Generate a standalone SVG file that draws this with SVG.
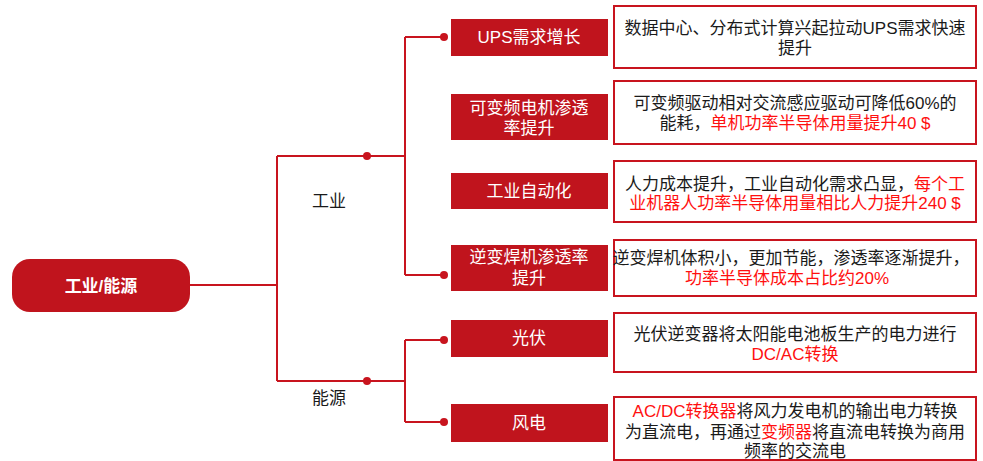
<svg xmlns="http://www.w3.org/2000/svg" width="983" height="461" viewBox="0 0 983 461">
<style>
text{font-family:"Liberation Sans","Noto Sans CJK SC",sans-serif;}
.node{fill:#C0141D;}
.nt{fill:#fff;font-size:17px;text-anchor:middle;}
.box{fill:#fff;stroke:#C8141E;stroke-width:2;}
.bt{fill:#1a1a1a;font-size:17px;text-anchor:middle;}
.r{fill:#ff1010;}
.lbl{fill:#1a1a1a;font-size:17px;text-anchor:middle;}
.conn{fill:none;stroke:#C8141E;stroke-width:2;}
.dot{fill:#C8141E;}
</style>
<g id="connectors">
<path class="conn" d="M190 285 H277 M277 156 V381 M277 156 H405 M277 381 H405 M405 37 V275 M405 37 H444 M405 275 H444 M405 340 V422 M405 340 H444 M405 422 H444"/>
<circle class="dot" cx="367" cy="156" r="4"/>
<circle class="dot" cx="367" cy="381" r="4"/>
<circle class="dot" cx="444" cy="37" r="4"/>
<circle class="dot" cx="444" cy="275" r="4"/>
<circle class="dot" cx="444" cy="340" r="4"/>
<circle class="dot" cx="444" cy="422" r="4"/>
</g>
<g id="root">
<rect class="node" x="12" y="259" width="178" height="53" rx="18"/>
<text x="101" y="292" fill="#fff" font-size="17" font-weight="bold" text-anchor="middle">工业/能源</text>
</g>
<g id="label-industry"><text class="lbl" x="329" y="207">工业</text></g>
<g id="label-energy"><text class="lbl" x="329" y="404">能源</text></g>
<g id="n-ups">
<rect class="node" x="451" y="19" width="157" height="37"/>
<text class="nt" x="529" y="43">UPS需求增长</text>
</g>
<g id="n-vfd">
<rect class="node" x="451" y="94" width="157" height="46"/>
<text class="nt" x="529" y="114">可变频电机渗透<tspan x="529" dy="20">率提升</tspan></text>
</g>
<g id="n-auto">
<rect class="node" x="451" y="173" width="157" height="36"/>
<text class="nt" x="529" y="197">工业自动化</text>
</g>
<g id="n-weld">
<rect class="node" x="451" y="245" width="157" height="46"/>
<text class="nt" x="529" y="263">逆变焊机渗透率<tspan x="529" dy="21">提升</tspan></text>
</g>
<g id="n-pv">
<rect class="node" x="451" y="320" width="157" height="37"/>
<text class="nt" x="529" y="344">光伏</text>
</g>
<g id="n-wind">
<rect class="node" x="451" y="404" width="157" height="38"/>
<text class="nt" x="529" y="429">风电</text>
</g>
<g id="d-ups">
<rect class="box" x="614" y="6" width="362" height="62"/>
<text class="bt" x="795" y="34">数据中心、分布式计算兴起拉动UPS需求快速<tspan x="795" dy="20">提升</tspan></text>
</g>
<g id="d-vfd">
<rect class="box" x="614" y="81" width="362" height="63"/>
<text class="bt" x="795" y="109">可变频驱动相对交流感应驱动可降低60%的<tspan x="795" dy="20">能耗，</tspan><tspan class="r">单机功率半导体用量提升40 $</tspan></text>
</g>
<g id="d-auto">
<rect class="box" x="614" y="161" width="362" height="61"/>
<text class="bt" x="795" y="190">人力成本提升，工业自动化需求凸显，<tspan class="r">每个工</tspan><tspan class="r" x="795" dy="19">业机器人功率半导体用量相比人力提升240 $</tspan></text>
</g>
<g id="d-weld">
<rect class="box" x="614" y="240" width="362" height="56"/>
<text class="bt" x="791" y="264">逆变焊机体积小，更加节能，渗透率逐渐提升，<tspan class="r" x="787" dy="20">功率半导体成本占比约20%</tspan></text>
</g>
<g id="d-pv">
<rect class="box" x="614" y="313" width="362" height="59"/>
<text class="bt" x="795" y="340">光伏逆变器将太阳能电池板生产的电力进行<tspan class="r" x="795" dy="20">DC/AC转换</tspan></text>
</g>
<g id="d-wind">
<rect class="box" x="614" y="397" width="362" height="63"/>
<text class="bt" x="795" y="417"><tspan class="r">AC/DC转换器</tspan>将风力发电机的输出电力转换<tspan x="795" dy="21">为直流电，再通过</tspan><tspan class="r">变频器</tspan>将直流电转换为商用<tspan x="795" dy="19">频率的交流电</tspan></text>
</g>
</svg>
